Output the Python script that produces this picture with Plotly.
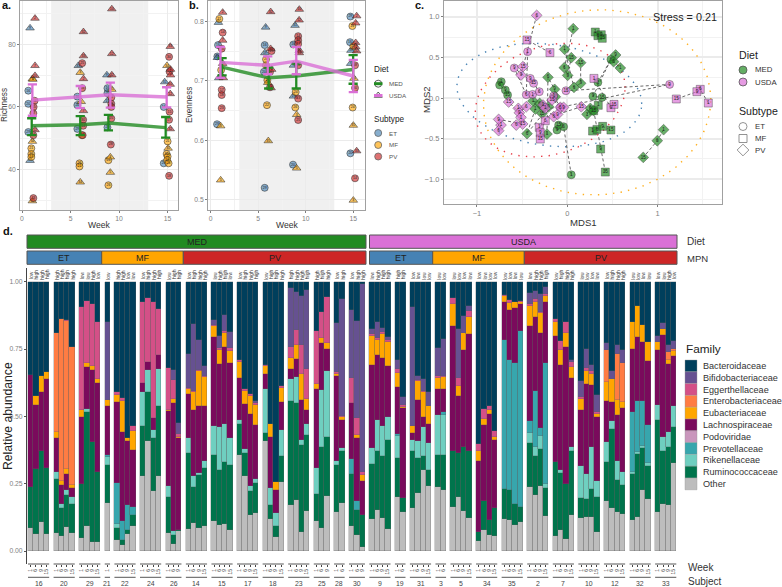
import numpy as np
import plotly.graph_objects as go

W, H = 782, 587
FONT = "Liberation Sans"

# ---------------- panel a: richness (week, value) ----------------
a_med_et = [(.65,65.2),(.65,61),(.65,52),(5.7,63.3),(5.7,60.6),(5.7,53),(8.8,66),(8.8,64.4),(8.8,53.5),(14.6,60),(14.6,42)]
a_usda_et = [(.83,85.2),(.83,42.9),(5.8,73.2),(8.74,70.2),(8.8,62),(14.7,68)]
a_med_mf = [(.96,46.8),(.96,45),(.96,44),(5.92,42),(5.92,41),(6.16,51),(8.9,43),(8.9,35),(14.9,45),(15,44.2),(14.95,43),(15.1,42),(15,49)]
a_usda_mf = [(1.07,69),(1.12,68.8),(1.07,49),(1.07,30),(6,71),(6.1,61.7),(6,36),(9.25,65.6),(9.1,44),(9.1,39.1),(14.93,73.2),(15.05,46.8)]
a_med_pv = [(1.3,62),(1.2,60),(1.17,58),(1.17,51),(1.17,30.9),(6.2,74),(6.2,66),(6.3,55.9),(6.3,54),(6.25,51),(9.2,63),(9.2,61),(9.2,60),(9.2,56.3),(9.15,48),(15.15,76),(15.2,71.3),(15.2,58.5),(15.15,55.9),(15.15,38)]
a_usda_pv = [(1.34,88.3),(1.34,73.2),(1.34,70),(1.34,52.7),(6.33,84),(6.33,76.3),(6.33,69),(6.33,58.8),(9.25,91.3),(9.25,77),(9.25,70.2),(15.27,79.3),(15.3,72),(15.3,70.2),(15.27,67.2),(15.27,64.2),(15.27,53)]
a_med_x = [1.0, 6.0, 8.9, 14.8]
a_med_mean = [54, 54.3, 54.9, 53.4]
a_med_hi = [56.4, 57.1, 57.5, 56.8]
a_med_lo = [51, 51, 52.5, 50.2]
a_usda_x = [1.07, 6.0, 9.1, 14.9]
a_usda_mean = [62.2, 63.2, 63.9, 63.2]
a_usda_hi = [67.2, 66.7, 67.8, 66.3]
a_usda_lo = [57.2, 59.6, 59.8, 59.9]

# ---------------- panel b: evenness (week, value) ----------------
b_med_et = [(.77,.76),(.7,.741),(.67,.627),(5.68,.76),(5.6,.715),(5.68,.52),(8.69,.761),(8.66,.559),(14.69,.808),(14.65,.765),(14.69,.578)]
b_usda_et = [(.81,.798),(.7,.739),(.85,.705),(5.78,.79),(5.7,.747),(8.87,.793),(8.7,.726),(8.7,.674),(14.75,.751),(14.72,.729)]
b_med_mf = [(.91,.804),(1.1,.718),(5.82,.736),(5.82,.726),(5.96,.701),(5.92,.659),(8.94,.681),(8.9,.655),(14.9,.792),(15,.758),(14.93,.655)]
b_usda_mf = [(1.05,.624),(1.05,.533),(6.0,.697),(6.06,.599),(9.04,.643),(9.04,.553),(15.07,.704),(15,.625),(15,.499)]
b_med_pv = [(1.26,.781),(1.16,.754),(1.16,.685),(1.16,.676),(1.16,.654),(6.4,.75),(6.24,.715),(6.24,.689),(9.2,.775),(9.2,.768),(9.2,.762),(9.2,.726),(9.2,.67),(9.2,.634),(15.18,.726),(15.18,.688),(15.18,.536)]
b_usda_pv = [(1.26,.815),(1.26,.768),(1.26,.729),(1.33,.705),(6.31,.816),(6.3,.754),(6.41,.719),(6.35,.688),(9.32,.82),(9.3,.802),(9.32,.751),(9.32,.747),(15.35,.809),(15.25,.797),(15.25,.764),(15.25,.757),(15.35,.75),(15.35,.582)]
b_med_x = [1.2, 6.1, 9.0, 14.98]
b_med_mean = [.723, .705, .708, .719]
b_med_hi = [.738, .722, .729, .743]
b_med_lo = [.709, .687, .687, .695]
b_usda_x = [1.03, 6.0, 9.0, 15.0]
b_usda_mean = [.731, .726, .733, .708]
b_usda_hi = [.757, .741, .757, .735]
b_usda_lo = [.705, .711, .711, .681]

# ---------------- panel c: ordination, per subject (week, MDS1, MDS2) ----------------
c_16 = [(1,-.731,.201),(6,-.749,.16),(9,-.686,.099),(15,-.661,.037)]
c_20 = [(1,.044,-.945),(6,-.041,-.353),(9,-.114,-.394),(15,-.096,-.333)]
c_29 = [(1,.339,.193),(6,.483,.476),(9,.284,.021),(15,.384,.008)]
c_21 = [(1,.343,-.09)]
c_22 = [(1,.31,.813),(6,.339,.768),(9,.376,.78),(15,.387,.735)]
c_24 = [(1,.28,-.407),(6,.328,-.386),(9,.391,-.349),(15,.483,-.394)]
c_26 = [(6,.292,-.156),(9,.369,-.628),(15,.421,-.912)]
c_14 = [(1,.066,.854),(6,-.033,.374),(9,.004,.279),(15,.044,.497)]
c_15 = [(1,-.03,.6),(6,.074,.131),(9,.148,.181),(15,.148,.435)]
c_17 = [(9,.535,.53),(6,.513,.448),(1,.587,.37)]
c_18 = [(1,1.066,-.39),(6,.996,-.526),(15,.841,-.731)]
c_23 = [(1,-.225,-.444),(6,-.214,.255),(9,-.14,.107),(15,-.133,.016)]
c_25 = [(1,-.38,-.037),(6,-.306,-.066),(9,-.273,-.107),(15,-.28,-.189)]
c_28 = [(1,-.354,-.136),(6,-.446,-.439),(9,-.207,-.107)]
c_30 = [(1,.218,-.201),(6,.255,-.127),(15,.292,-.156)]
c_9 = [(1,-.439,.571),(6,-.454,.041),(9,-.587,.37),(15,-.373,.181)]
c_19 = [(1,-.384,.045),(6,-.31,.078),(9,-.41,.242)]
c_31 = [(1,-.151,.025),(6,-.077,-.115),(9,1.133,.168),(15,-.015,.09)]
c_3 = [(1,-.31,-.361),(6,-.244,-.279),(9,-.299,-.427),(15,-.299,-.505)]
c_5 = [(1,1.561,-.062),(6,1.472,.107),(9,1.435,.078),(15,1.207,-.012)]
c_34 = [(6,-.192,.559),(15,-.446,.715)]
c_35 = [(1,.295,.242),(9,.483,-.119),(15,.517,-.078)]
c_2 = [(6,-.339,1.018),(15,-.491,.386),(9,-.513,.283)]
c_7 = [(1,-.542,-.127),(6,-.454,-.107),(9,-.531,-.181),(15,-.649,-.049)]
c_10 = [(1,-.734,-.333),(6,-.76,-.402),(9,-.76,-.263),(15,-.494,-.32)]
c_12 = [(1,-.513,-.238),(6,-.565,-.333)]
c_32 = [(1,-.269,-.086),(6,-.151,-.23),(9,-.107,-.201),(15,.155,-.107)]
c_33 = [(1,-.244,-.127),(6,-.077,-.115),(9,-.041,-.115),(15,-.17,-.025)]
# ellipse read-offs: centre x, centre y, half width, half height, shear
ell_et = (-.2, .037, 1.024, .637, -.17)
ell_mf = (.33, -.053, 1.258, 1.14, .03)
ell_pv = (-.19, -.025, .83, .70, .22)

# ---------------- panel d: stacked composition ----------------
families = ["Bacteroidaceae","Bifidobacteriaceae","Eggerthellaceae","Enterobacteriaceae","Eubacteriaceae",
            "Lachnospiraceae","Podoviridae","Prevotellaceae","Rikenellaceae","Ruminococcaceae","Other"]
family_colors = ["#003f5c","#665191","#d45087","#ff7c43","#ffa600","#7a0a5c","#c996bc","#37a6ad","#6fcfc0","#00744c","#bdbdbd"]
# each bar: running top of Other, Ruminococcaceae, Rikenellaceae, Prevotellaceae, Lachnospiraceae,
# Eubacteriaceae, Enterobacteriaceae, Eggerthellaceae, Bifidobacteriaceae (Bacteroidaceae fills to 1)
s16 = [(.087,.236,.236,.236,.653,.653,.653,.653,.653),(.065,.303,.303,.303,.543,.576,.576,.576,.576),(.109,.373,.373,.373,.59,.649,.649,.649,.649),(.065,.31,.31,.31,.639,.665,.665,.665,.665)]
s20 = [(.067,.268,.293,.293,.419,.442,.811,.811,.811),(.057,.159,.174,.174,.246,.26,.861,.861,.861),(.09,.208,.225,.225,.287,.304,.854,.858,.858),(.066,.174,.2,.2,.233,.244,.758,.758,.758)]
s29 = [(.047,.25,.25,.25,.497,.525,.525,.907,.907),(.093,.515,.527,.527,.684,.699,.699,.928,.928),(.034,.403,.403,.403,.671,.687,.687,.917,.917),(.032,.295,.295,.295,.624,.639,.639,.852,.852)]
s21 = [(.18,.32,.349,.357,.537,.56,.56,.56,.85)]
s22 = [(.041,.087,.102,.252,.552,.578,.578,.59,.59),(.021,.041,.041,.11,.442,.556,.556,.569,.569),(.062,.078,.078,.172,.407,.419,.419,.419,.419),(.091,.133,.133,.165,.375,.444,.444,.465,.465)]
s24 = [(.277,.465,.59,.59,.625,.625,.625,.923,.923),(.407,.59,.672,.672,.703,.703,.703,.938,.938),(.223,.418,.45,.45,.494,.494,.494,.923,.923),(.279,.537,.674,.674,.729,.729,.729,.90,.90)]
s26 = [(.066,.202,.24,.24,.519,.525,.525,.68,.68),(.025,.06,.076,.076,.551,.563,.563,.634,.671),(.076,.078,.078,.078,.42,.425,.425,.434,.475)]
s14 = [(.081,.364,.42,.42,.584,.60,.60,.607,.733),(.105,.237,.277,.277,.525,.59,.59,.595,.842),(.084,.283,.29,.29,.54,.667,.667,.672,.783),(.093,.308,.336,.336,.537,.646,.646,.65,.687)]
s15 = [(.112,.357,.465,.465,.795,.835,.835,.84,.857),(.098,.301,.46,.46,.696,.746,.746,.752,.798),(.1,.33,.471,.471,.756,.808,.808,.816,.876),(.078,.32,.419,.419,.699,.742,.742,.752,.814)]
s17 = [(.357,.473,.485,.485,.643,.70,.70,.71,.71),(.279,.364,.38,.38,.547,.594,.594,.60,.60),(.134,.223,.242,.242,.509,.574,.574,.584,.584),(.14,.252,.267,.267,.469,.543,.543,.55,.556)]
s18 = [(.407,.438,.60,.60,.656,.687,.687,.689,.689),(.118,.169,.233,.233,.422,.471,.471,.471,.471),(.053,.093,.14,.14,.227,.258,.258,.258,.258),(.258,.351,.448,.448,.552,.607,.607,.612,.612)]
s23 = [(.171,.556,.638,.638,.677,.717,.717,.758,.978),(.19,.55,.646,.646,.714,.764,.764,.82,.963),(.072,.395,.411,.411,.562,.656,.656,.766,.947),(.149,.432,.471,.471,.525,.563,.563,.675,.969)]
s25 = [(.113,.211,.308,.308,.60,.622,.622,.816,.816),(.084,.388,.597,.597,.771,.792,.792,.888,.888),(.205,.423,.668,.668,.75,.771,.771,.944,.944)]
s28 = [(.146,.32,.335,.335,.649,.659,.659,.665,.848),(.18,.37,.382,.382,.485,.498,.498,.503,.935)]
s30 = [(.093,.287,.287,.341,.55,.55,.55,.641,.895),(.06,.153,.153,.184,.419,.432,.432,.494,.854),(.016,.132,.132,.135,.26,.282,.282,.295,.99)]
s9 = [(.118,.324,.383,.383,.69,.798,.798,.805,.824),(.153,.373,.485,.485,.727,.785,.785,.792,.851),(.122,.354,.463,.463,.715,.805,.805,.814,.829),(.082,.413,.496,.496,.686,.777,.777,.785,.795)]
s19 = [(.199,.345,.426,.436,.609,.661,.661,.675,.708),(.143,.196,.196,.196,.531,.535,.535,.543,.572)]
s31 = [(.159,.372,.413,.413,.44,.463,.463,.463,.907),(.217,.345,.407,.407,.56,.63,.63,.634,.649),(.301,.354,.459,.459,.498,.59,.59,.594,.64),(.242,.301,.40,.40,.473,.54,.54,.54,.59)]
s3 = [(.239,.357,.506,.506,.60,.643,.643,.65,.752),(.227,.357,.504,.516,.60,.647,.647,.65,.787)]
s5 = [(.165,.373,.373,.373,.835,.916,.916,.938,.938),(.199,.364,.364,.364,.574,.613,.613,.643,.824),(.149,.386,.386,.386,.746,.808,.808,.808,.873),(.122,.37,.37,.37,.804,.87,.87,.891,.909)]
s34 = [(.038,.072,.072,.072,.335,.373,.373,.398,.398),(.078,.184,.184,.184,.469,.49,.49,.529,.529),(.06,.115,.115,.115,.51,.522,.522,.54,.54),(.056,.159,.159,.159,.411,.422,.422,.444,.444)]
s35 = [(.12,.23,.23,.783,.923,.948,.948,.95,.95),(.115,.225,.225,.711,.895,.922,.922,.932,.932),(.096,.175,.175,.699,.903,.923,.923,.926,.926),(.109,.163,.163,.816,.916,.926,.926,.93,.93)]
s2 = [(.237,.401,.44,.481,.835,.909,.909,.917,.957),(.208,.354,.388,.594,.87,.926,.926,.935,.965),(.242,.378,.426,.455,.81,.882,.882,.888,.953),(.13,.233,.247,.699,.923,.948,.948,.954,.979)]
s7 = [(.057,.329,.332,.332,.798,.851,.851,.861,.861),(.078,.289,.299,.299,.69,.746,.746,.78,.78),(.045,.248,.248,.248,.756,.81,.81,.849,.849),(.134,.37,.386,.386,.643,.684,.684,.70,.708)]
s10 = [(.122,.196,.314,.314,.525,.566,.566,.572,.63),(.128,.192,.287,.287,.62,.667,.667,.68,.749),(.128,.23,.388,.388,.618,.656,.656,.668,.69),(.072,.2,.261,.261,.498,.51,.51,.515,.578)]
s12 = [(.186,.33,.404,.404,.556,.628,.746,.746,.774),(.159,.453,.484,.484,.553,.638,.638,.638,.669),(.144,.264,.336,.336,.504,.56,.733,.733,.764),(.138,.246,.295,.295,.531,.553,.698,.698,.746)]
s32 = [(.115,.287,.295,.515,.749,.851,.851,.851,.851),(.128,.361,.366,.556,.794,.909,.909,.909,.909),(.227,.382,.391,.556,.775,.841,.841,.841,.841),(.192,.314,.326,.469,.705,.777,.777,.777,.777)]
s33 = [(.146,.488,.543,.543,.746,.777,.777,.777,.799),(.174,.37,.423,.423,.801,.824,.824,.824,.847),(.17,.388,.442,.442,.694,.708,.739,.739,.764),(.326,.46,.54,.54,.723,.743,.749,.749,.779)]

med_et = [16, 20, 29]; med_mf = [21, 22, 24, 26]; med_pv = [14, 15, 17, 18, 23, 25, 28, 30]
usda_et = [9, 19, 31]; usda_mf = [3, 5, 34, 35]; usda_pv = [2, 7, 10, 12, 32, 33]
subject_order = med_et + med_mf + med_pv + usda_et + usda_mf + usda_pv
subject_bars = {16:s16,20:s20,29:s29,21:s21,22:s22,24:s24,26:s26,14:s14,15:s15,17:s17,18:s18,23:s23,25:s25,28:s28,30:s30,
                9:s9,19:s19,31:s31,3:s3,5:s5,34:s34,35:s35,2:s2,7:s7,10:s10,12:s12,32:s32,33:s33}
subject_c = {16:c_16,20:c_20,29:c_29,21:c_21,22:c_22,24:c_24,26:c_26,14:c_14,15:c_15,17:c_17,18:c_18,23:c_23,25:c_25,28:c_28,30:c_30,
             9:c_9,19:c_19,31:c_31,3:c_3,5:c_5,34:c_34,35:c_35,2:c_2,7:c_7,10:c_10,12:c_12,32:c_32,33:c_33}
week_labels = {1:[1], 2:[1,6], 3:[1,6,9], 4:[1,6,9,15]}
mpn_labels = {16:"lhhh",20:"hhhh",29:"llhl",21:"l",22:"hhll",24:"lhhh",26:"lhh",14:"lhhh",15:"lhhl",17:"lhhh",18:"lhhh",23:"hhhh",25:"hhh",28:"lh",30:"lhh",
              9:"lhhh",19:"hh",31:"llll",3:"ll",5:"llll",34:"llll",35:"llll",2:"lhhh",7:"lhhh",10:"llll",12:"lhhh",32:"llll",33:"llhl"}

MED, USDA = "#228B22", "#DA70D6"
ET, MF, PV = "#4682B4", "#FFA500", "#CD2626"
GRID = "#ebebeb"; BORDER = "#a0a0a0"; TICK = "#7f7f7f"


def rgba(hex_color, a):
    r, g, b = int(hex_color[1:3], 16), int(hex_color[3:5], 16), int(hex_color[5:7], 16)
    return f"rgba({r},{g},{b},{a})"


def dx(x0, x1):
    return [x0 / W, x1 / W]


def dy(y0, y1):
    return [1 - y1 / H, 1 - y0 / H]


fig = go.Figure()
ann, shp = [], []


def note(text, x, y, size=8, anchor="left", color="#222222", bold=False, angle=0):
    ann.append(dict(text=f"<b>{text}</b>" if bold else text, x=x / W, y=1 - y / H, xref="paper", yref="paper",
                    showarrow=False, xanchor=anchor, yanchor="middle", textangle=angle,
                    font=dict(size=size, color=color, family=FONT), borderpad=0))


def box(x0, y0, x1, y1, fill, line="#555555", lw=1):
    shp.append(dict(type="rect", xref="paper", yref="paper", x0=x0 / W, x1=x1 / W, y0=1 - y0 / H, y1=1 - y1 / H,
                    fillcolor=fill, line=dict(color=line, width=lw)))


def base_axis(**kw):
    d = dict(showline=True, mirror=True, linecolor=BORDER, linewidth=1.3, showgrid=True, gridcolor=GRID, gridwidth=1.1,
             zeroline=False, ticks="outside", ticklen=2, tickwidth=.7, tickcolor=TICK,
             tickfont=dict(size=6.8, color=TICK, family=FONT))
    d.update(kw)
    return d


layout = dict(
    xaxis=base_axis(domain=dx(20.3, 178.3), range=[-.175, 16.1], tickvals=[0, 5, 10, 15],
                    minor=dict(tickvals=[2.5, 7.5, 12.5], showgrid=True, gridcolor="#f2f2f2", gridwidth=.6, ticks="")),
    yaxis=base_axis(domain=dy(.5, 210), range=[27.1, 94], tickvals=[40, 60, 80],
                    minor=dict(tickvals=[30, 50, 70, 90], showgrid=True, gridcolor="#f2f2f2", gridwidth=.6, ticks="")),
    xaxis2=base_axis(domain=dx(208.3, 365.3), range=[-.25, 16.26], tickvals=[0, 5, 10, 15], anchor="y2",
                     minor=dict(tickvals=[2.5, 7.5, 12.5], showgrid=True, gridcolor="#f2f2f2", gridwidth=.6, ticks="")),
    yaxis2=base_axis(domain=dy(.5, 210), range=[.4827, .835], tickvals=[.5, .6, .7, .8], tickformat=".1f", anchor="x2",
                     minor=dict(tickvals=[.55, .65, .75], showgrid=True, gridcolor="#f2f2f2", gridwidth=.6, ticks="")),
    xaxis3=base_axis(domain=dx(444, 722.3), range=[-1.365, 1.716], tickvals=[-1, 0, 1], anchor="y3", gridwidth=1.5,
                     tickfont=dict(size=7.5, color=TICK, family=FONT),
                     minor=dict(tickvals=[-.5, .5, 1.5], showgrid=True, gridcolor="#f2f2f2", gridwidth=.8, ticks="")),
    yaxis3=base_axis(domain=dy(1, 204), range=[-1.305, 1.195], tickvals=[-1, -.5, 0, .5, 1], tickformat=".1f", anchor="x3", gridwidth=1.5,
                     tickfont=dict(size=7.5, color=TICK, family=FONT),
                     minor=dict(tickvals=[-1.25, -.75, -.25, .25, .75], showgrid=True, gridcolor="#f2f2f2", gridwidth=.8, ticks="")),
)

# grey study-period band on a and b
for xr, yr in (("x", "y"), ("x2", "y2")):
    shp.append(dict(type="rect", xref=xr, yref=f"{yr} domain", x0=3, x1=13, y0=0, y1=1, layer="below",
                    fillcolor="rgba(0,0,0,0.06)", line=dict(width=0)))


def scatter_panel(groups, line_groups, xa, ya):
    subj_lookup = [med_et, usda_et, med_mf, usda_mf, med_pv, usda_pv]
    colors = [ET, ET, MF, MF, PV, PV]
    syms = ["circle", "triangle-up"] * 3
    for pts, subs, col, sym in zip(groups, subj_lookup, colors, syms):
        arr = np.array(pts)
        fig.add_trace(go.Scatter(
            x=arr[:, 0], y=arr[:, 1], mode="markers+text", xaxis=xa, yaxis=ya, showlegend=False,
            text=[str(subs[i % len(subs)]) for i in range(len(arr))], textposition="middle center",
            textfont=dict(size=3.5, color="#222222", family=FONT),
            marker=dict(symbol=sym, size=7 if sym == "circle" else 7.5, color=rgba(col, .62),
                        line=dict(color="rgba(40,40,40,.75)", width=.7))))
    for x, m, hi, lo, col in line_groups:
        m, hi, lo = np.array(m), np.array(hi), np.array(lo)
        fig.add_trace(go.Scatter(x=x, y=m, mode="lines", xaxis=xa, yaxis=ya, showlegend=False, opacity=.8,
                                 line=dict(color=col, width=3.4)))
        fig.add_trace(go.Scatter(x=x, y=m, mode="markers", xaxis=xa, yaxis=ya, showlegend=False,
                                 marker=dict(size=1, color=col),
                                 error_y=dict(type="data", symmetric=False, array=hi - m, arrayminus=m - lo,
                                              color=col, thickness=2.3, width=4.6)))


scatter_panel([a_med_et, a_usda_et, a_med_mf, a_usda_mf, a_med_pv, a_usda_pv],
              [(a_med_x, a_med_mean, a_med_hi, a_med_lo, MED), (a_usda_x, a_usda_mean, a_usda_hi, a_usda_lo, USDA)], "x", "y")
scatter_panel([b_med_et, b_usda_et, b_med_mf, b_usda_mf, b_med_pv, b_usda_pv],
              [(b_med_x, b_med_mean, b_med_hi, b_med_lo, MED), (b_usda_x, b_usda_mean, b_usda_hi, b_usda_lo, USDA)], "x2", "y2")

# ---- panel c
t = np.radians(np.arange(0, 361, 2.0))
for (cx, cy, rx, ry, sh), col in ((ell_et, ET), (ell_mf, "#FFB020"), (ell_pv, "#E8404A")):
    phi = np.arccos(sh)
    fig.add_trace(go.Scatter(x=cx + rx * np.cos(t), y=cy + ry * np.cos(t - phi), mode="lines", xaxis="x3", yaxis="y3",
                             showlegend=False, line=dict(color=col, width=1.4, dash="1.4px,6.2px")))
path_x, path_y = [], []
for s in subject_order:
    for w, x, y in subject_c[s]:
        path_x.append(x); path_y.append(y)
    path_x.append(None); path_y.append(None)
fig.add_trace(go.Scatter(x=path_x, y=path_y, mode="lines", xaxis="x3", yaxis="y3", showlegend=False,
                         line=dict(color="#444444", width=.8, dash="3px,2.4px")))
for subs, col, sym in ((med_et, MED, "circle"), (med_mf, MED, "square"), (med_pv, MED, "diamond"),
                       (usda_et, USDA, "circle"), (usda_mf, USDA, "square"), (usda_pv, USDA, "diamond")):
    rows = [r for s in subs for r in subject_c[s]]
    fig.add_trace(go.Scatter(
        x=[r[1] for r in rows], y=[r[2] for r in rows], text=[str(r[0]) for r in rows],
        mode="markers+text", xaxis="x3", yaxis="y3", showlegend=False, textposition="middle center",
        textfont=dict(size=4.6, color="#222222", family=FONT),
        marker=dict(symbol=sym, size=8 if sym != "diamond" else 8.3, color=rgba(col, .68),
                    line=dict(color="rgba(60,60,60,.7)", width=.6))))

# ---- panel d
GAP = .83
UNIT = 648.3 / (100 + 27 * GAP)
tops, pos, weeks, mpn = [], [], [], []
spans = []
cursor = 0.0
for s in subject_order:
    bars = subject_bars[s]
    start = cursor
    for i, row in enumerate(bars):
        tops.append(row)
        pos.append(cursor)
        weeks.append(str(week_labels[len(bars)][i]))
        mpn.append("low" if mpn_labels[s][i] == "l" else "high")
        cursor += 1
    spans.append((s, start - .5, cursor - .5))
    cursor += GAP
tops = np.array(tops)
stack_order = ["Other", "Ruminococcaceae", "Rikenellaceae", "Prevotellaceae", "Lachnospiraceae",
               "Eubacteriaceae", "Enterobacteriaceae", "Eggerthellaceae", "Bifidobacteriaceae", "Bacteroidaceae"]
edges = np.hstack([np.zeros((len(tops), 1)), tops, np.ones((len(tops), 1))])
values = np.diff(edges, axis=1)
for j, fam in enumerate(stack_order):
    fig.add_trace(go.Bar(x=pos, y=values[:, j], width=1, name=fam, xaxis="x4", yaxis="y4", showlegend=False,
                         marker=dict(color=family_colors[families.index(fam)],
                                     line=dict(color="rgba(95,95,95,.55)", width=.5))))
px_left = 27
layout["barmode"] = "stack"
layout["xaxis4"] = dict(domain=dx(px_left, 678), range=[-.5 - (28 - px_left) / UNIT, (678 - 28) / UNIT - .5], anchor="y4",
                        showgrid=False, zeroline=False, showline=False, tickvals=pos, ticktext=weeks, tickangle=-90,
                        ticks="outside", ticklen=2.2, tickwidth=.5, tickcolor="#444444",
                        tickfont=dict(size=4.8, color="#444444", family=FONT))
layout["yaxis4"] = dict(domain=dy(268, 564), range=[-(564 - 551) / 269.3, 1 + (281.7 - 268) / 269.3], anchor="x4",
                        showgrid=False, zeroline=False, showline=True, linecolor="#444444", linewidth=1,
                        tickvals=[0, .25, .5, .75, 1], tickformat=".2f", ticks="outside", ticklen=2, tickwidth=.6,
                        tickcolor="#555555", tickfont=dict(size=6.8, color=TICK, family=FONT))
for s, a, b in spans:
    shp.append(dict(type="line", xref="x4", yref="paper", x0=a, x1=b, y0=1 - 564 / H, y1=1 - 564 / H,
                    line=dict(color="#444444", width=.9)))
    shp.append(dict(type="line", xref="x4", yref="paper", x0=a, x1=b, y0=1 - 577.3 / H, y1=1 - 577.3 / H,
                    line=dict(color="#444444", width=.9)))
    ann.append(dict(text=str(s), x=(a + b) / 2, y=1 - 583.3 / H, xref="x4", yref="paper", showarrow=False,
                    xanchor="center", yanchor="middle", font=dict(size=6.9, color="#444444", family=FONT)))
for p, m in zip(pos, mpn):
    ann.append(dict(text=m, x=p, y=1 - 280.5 / H, xref="x4", yref="paper", showarrow=False, textangle=-90,
                    xanchor="center", yanchor="bottom", borderpad=0, font=dict(size=5, color="#333333", family=FONT)))

# strips
box(27, 235, 366, 248.3, MED); note("MED", 197, 241.8, 9, "center", "#222222")
box(369.5, 235, 677, 248.3, USDA); note("USDA", 523, 241.8, 9, "center", "#222222")
for x0, x1, col, lab in ((27, 101.7, ET, "ET"), (101.7, 183.3, MF, "MF"), (183.3, 366, PV, "PV"),
                         (369.5, 432.7, ET, "ET"), (432.7, 524.3, MF, "MF"), (524.3, 677, PV, "PV")):
    box(x0, 251, x1, 264.3, col)
    note(lab, (x0 + x1) / 2, 257.8, 9, "center", "#222222")
note("Diet", 686, 241.5, 10, color="#333333"); note("MPN", 686, 258, 9.5, color="#333333")
note("Week", 687, 567, 10, color="#333333"); note("Subject", 687, 581.5, 10, color="#333333")
note("Family", 685, 349, 11.8, color="#222222")
note("Relative abundance", 8, 416, 12.2, "center", "#222222", angle=-90)
for i, fam in enumerate(families):
    y = 360 + i * 11.8
    box(685, y, 697, y + 11.8, family_colors[i], "#999999", .4)
    note(fam, 702.3, y + 6, 9.1, color="#333333")

# panel labels and axis titles
note("a.", 1, 5, 11, bold=True, color="#111111"); note("b.", 188, 5, 11, bold=True, color="#111111")
note("c.", 414, 5, 11, bold=True, color="#111111"); note("d.", 2, 231, 11, bold=True, color="#111111")
note("Richness", 4, 105, 8.3, "center", color="#333333", angle=-90)
note("Evenness", 189, 105, 8.3, "center", color="#333333", angle=-90)
note("MDS2", 426, 100, 9.6, "center", color="#333333", angle=-90)
note("Week", 99, 224.5, 8.6, "center", color="#333333"); note("Week", 287, 224.5, 8.6, "center", color="#333333")
note("MDS1", 583, 222, 9.6, "center", color="#333333")
note("Stress = 0.21", 685, 17, 10.8, "center", color="#222222")

# legends: hidden pixel-scaled overlay axes carry the keys
layout["xaxis5"] = dict(domain=[0, 1], range=[0, W], visible=False, anchor="y5", fixedrange=True)
layout["yaxis5"] = dict(domain=[0, 1], range=[H, 0], visible=False, anchor="x5", fixedrange=True)


def key(x, y, sym="circle", fill="rgba(0,0,0,0)", line="#555555", size=7, lw=.8):
    fig.add_trace(go.Scatter(x=[x], y=[y], mode="markers", xaxis="x5", yaxis="y5", showlegend=False,
                             marker=dict(symbol=sym, size=size, color=fill, line=dict(color=line, width=lw))))


def keyline(x0, x1, y, col):
    shp.append(dict(type="line", xref="paper", yref="paper", x0=x0 / W, x1=x1 / W, y0=1 - y / H, y1=1 - y / H,
                    line=dict(color=col, width=3)))


note("Diet", 373, 70, 8.2)
keyline(374, 382.5, 83.7, MED); key(378.2, 83.7, "circle", size=7, line="#333333")
keyline(374, 382.5, 95.5, USDA); key(378.2, 95.5, "triangle-up", size=7, line="#333333")
note("MED", 388, 83.7, 6.2, color="#555555"); note("USDA", 388, 95.5, 6.2, color="#555555")
note("Subtype", 373, 120, 8.2)
for y, col, lab in ((133, ET, "ET"), (145, MF, "MF"), (156.5, PV, "PV")):
    key(378.2, y, "circle", rgba(col, .65), "#666666", 7)
    note(lab, 388, y, 6.2, color="#555555")

note("Diet", 737.5, 55, 10.6)
for y, col, lab in ((70, MED, "MED"), (82, USDA, "USDA")):
    key(743, y, "circle", rgba(col, .7), "#555555", 8)
    note(lab, 753.7, y, 7.8, color="#333333")
note("Subtype", 737.5, 111, 10.6)
for y, sym, lab in ((126.5, "circle", "ET"), (138.5, "square", "MF"), (150, "diamond", "PV")):
    key(743, y, sym, "rgba(255,255,255,0)", "#777777", 8 if sym != "diamond" else 9)
    note(lab, 753.7, y, 7.8, color="#333333")

layout.update(width=W, height=H, margin=dict(l=0, r=0, t=0, b=0), paper_bgcolor="white", plot_bgcolor="rgba(0,0,0,0)",
              showlegend=False, annotations=ann, shapes=shp, font=dict(family=FONT), bargap=0)
fig.update_layout(**layout)
fig.write_html("out.html", config=dict(displayModeBar=False),
               post_script="document.body.style.margin='0';document.body.style.overflow='hidden';")
